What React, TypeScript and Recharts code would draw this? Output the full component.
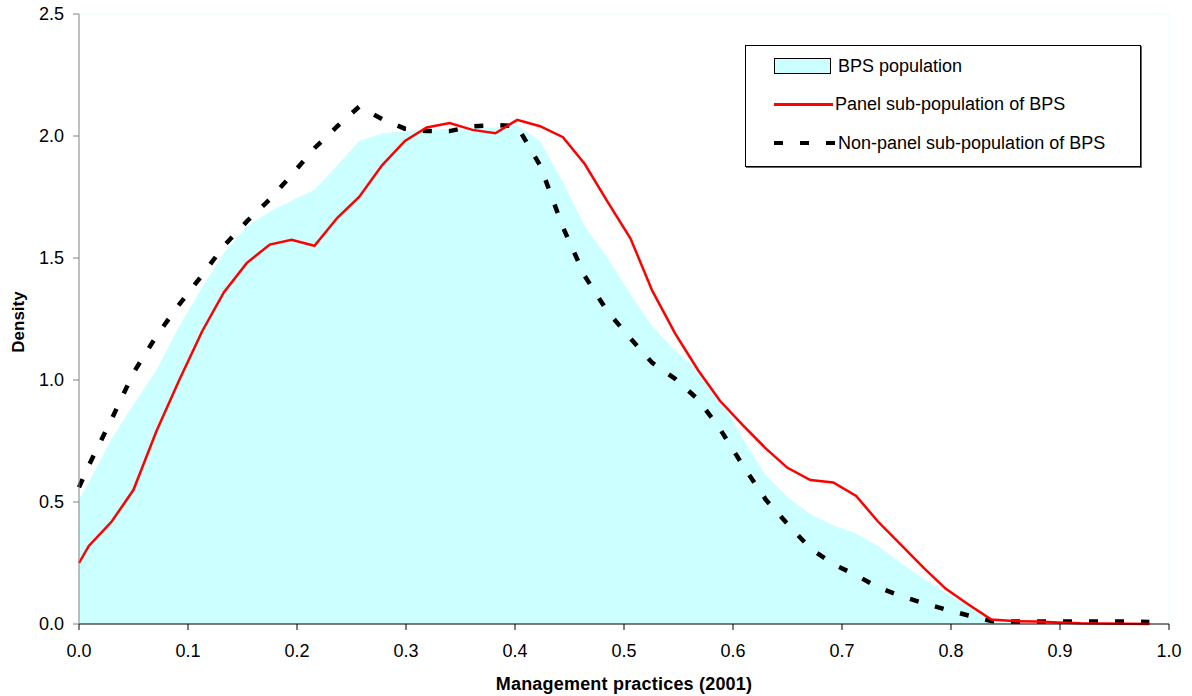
import React from 'react';
import {
  ComposedChart,
  Area,
  Line,
  XAxis,
  YAxis,
  ReferenceLine,
} from 'recharts';

// Management practices score (x) at which each density was estimated
const xValues = [
  0, 0.009, 0.03, 0.05, 0.071, 0.092, 0.113, 0.133, 0.154, 0.175, 0.195, 0.216, 0.237, 0.257,
  0.278, 0.299, 0.319, 0.34, 0.361, 0.382, 0.402, 0.423, 0.444, 0.464, 0.485, 0.506, 0.526,
  0.547, 0.568, 0.588, 0.609, 0.63, 0.65, 0.671, 0.692, 0.713, 0.733, 0.754, 0.775, 0.795,
  0.816, 0.837, 0.857, 0.878, 0.899, 0.919, 0.94, 0.961, 0.982,
];

const bpsPopulation = [
  0.51, 0.58, 0.76, 0.9, 1.04, 1.22, 1.38, 1.52, 1.63, 1.69, 1.735, 1.78, 1.88, 1.98,
  2.01, 2.02, 2.025, 2.03, 2.03, 2.035, 2.045, 1.98, 1.81, 1.63, 1.5, 1.35, 1.22,
  1.12, 1.04, 0.93, 0.76, 0.61, 0.52, 0.45, 0.405, 0.37, 0.32, 0.25, 0.185, 0.13,
  0.075, 0.015, 0.008, 0.006, 0.004, 0.003, 0.002, 0.001, 0,
];

const panelSub = [
  0.25, 0.32, 0.42, 0.55, 0.79, 1.0, 1.2, 1.36, 1.48, 1.555, 1.575, 1.55, 1.665, 1.75,
  1.88, 1.98, 2.035, 2.053, 2.025, 2.011, 2.066, 2.04, 1.995, 1.885, 1.73, 1.58, 1.365,
  1.19, 1.04, 0.915, 0.815, 0.72, 0.64, 0.59, 0.58, 0.525, 0.42, 0.325, 0.23, 0.145,
  0.08, 0.018, 0.012, 0.01, 0.006, 0.003, 0.002, 0.001, 0,
];

const nonPanelSub = [
  0.56, 0.65, 0.84, 1.03, 1.18, 1.31, 1.43, 1.55, 1.65, 1.74, 1.84, 1.95, 2.04, 2.12,
  2.07, 2.03, 2.02, 2.02, 2.04, 2.045, 2.04, 1.88, 1.626, 1.426, 1.28, 1.17, 1.07,
  1.005, 0.92, 0.8, 0.65, 0.51, 0.41, 0.31, 0.245, 0.2, 0.15, 0.115, 0.085, 0.06,
  0.035, 0.012, 0.01, 0.01, 0.01, 0.01, 0.01, 0.01, 0.008,
];

const xTicks = [0, 0.1, 0.2, 0.3, 0.4, 0.5, 0.6, 0.7, 0.8, 0.9, 1.0];
const yTicks = [0, 0.5, 1.0, 1.5, 2.0, 2.5];

const seriesNames = {
  bps: 'BPS population',
  panel: 'Panel sub-population of BPS',
  nonPanel: 'Non-panel sub-population of BPS',
};

const data = xValues.map((x, i) => ({
  x,
  bps: bpsPopulation[i],
  panel: panelSub[i],
  nonPanel: nonPanelSub[i],
}));

const FONT = 'Arial, "Liberation Sans", Helvetica, sans-serif';
const CYAN = '#ccffff';

// boxed legend like the Excel original (sits over the plot, top right)
function BoxLegend() {
  const row = { display: 'flex', alignItems: 'center', height: 38.5 } as const;
  const label = { fontSize: 18, marginLeft: 7, color: '#000', whiteSpace: 'nowrap' } as const;
  return (
    <div
      style={{
        position: 'absolute',
        left: 745,
        top: 45,
        width: 396,
        height: 122,
        boxSizing: 'border-box',
        border: '1px solid #000',
        boxShadow: '1px 1px 0 #666',
        background: '#fff',
        fontFamily: FONT,
        padding: '1px 0 0 28px',
      }}
    >
      <div style={row}>
        <div style={{ width: 55, height: 14, background: CYAN, border: '1px solid #000' }} />
        <span style={label}>{seriesNames.bps}</span>
      </div>
      <div style={row}>
        <div style={{ width: 59, height: 3, background: '#ff0000' }} />
        <span style={{ ...label, marginLeft: 2 }}>{seriesNames.panel}</span>
      </div>
      <div style={row}>
        <svg width={62} height={6}>
          <line x1={0} y1={3} x2={62} y2={3} stroke="#000" strokeWidth={4} strokeDasharray="9 17" />
        </svg>
        <span style={{ ...label, marginLeft: 2 }}>{seriesNames.nonPanel}</span>
      </div>
    </div>
  );
}

export default function App() {
  return (
    <div style={{ position: 'absolute', left: 0, top: 0, width: 1192, height: 696, background: '#fff' }}>
      <ComposedChart
        width={1192}
        height={696}
        data={data}
        margin={{ top: 14, right: 23, bottom: 32, left: 0 }}
        style={{ fontFamily: FONT }}
      >
        <XAxis
          type="number"
          dataKey="x"
          domain={[0, 1]}
          ticks={xTicks}
          tickFormatter={(v) => Number(v).toFixed(1)}
          stroke="#000"
          tickSize={6}
          tickMargin={14}
          height={40}
          tick={{ fill: '#000', fontSize: 18 }}
          label={{
            content: () => (
              <text x={624} y={690} textAnchor="middle" fontSize={18} fontWeight="bold" fill="#000" fontFamily={FONT} letterSpacing={0.2}>
                Management practices (2001)
              </text>
            ),
          }}
        />
        <YAxis
          type="number"
          domain={[0, 2.5]}
          ticks={yTicks}
          tickFormatter={(v) => Number(v).toFixed(1)}
          stroke="#808080"
          tickSize={6}
          tickMargin={9}
          width={79}
          tick={{ fill: '#000', fontSize: 18 }}
          label={{
            content: () => (
              <text x={24} y={322} transform="rotate(-90 24 322)" textAnchor="middle" fontSize={17} fontWeight="bold" fill="#000" fontFamily={FONT}>
                Density
              </text>
            ),
          }}
        />
        <ReferenceLine y={2.5} stroke="#e6ffff" strokeWidth={1} />
        <ReferenceLine x={1} stroke="#eefefe" strokeWidth={1} />
        <Area
          type="linear"
          dataKey="bps"
          name={seriesNames.bps}
          stroke="none"
          fill={CYAN}
          fillOpacity={1}
          isAnimationActive={false}
        />
        <Line
          type="linear"
          dataKey="nonPanel"
          name={seriesNames.nonPanel}
          stroke="#000"
          strokeWidth={4.5}
          strokeDasharray="9 17"
          dot={false}
          isAnimationActive={false}
        />
        <Line
          type="linear"
          dataKey="panel"
          name={seriesNames.panel}
          stroke="#ff0000"
          strokeWidth={2.5}
          dot={false}
          isAnimationActive={false}
        />
      </ComposedChart>
      <BoxLegend />
    </div>
  );
}
